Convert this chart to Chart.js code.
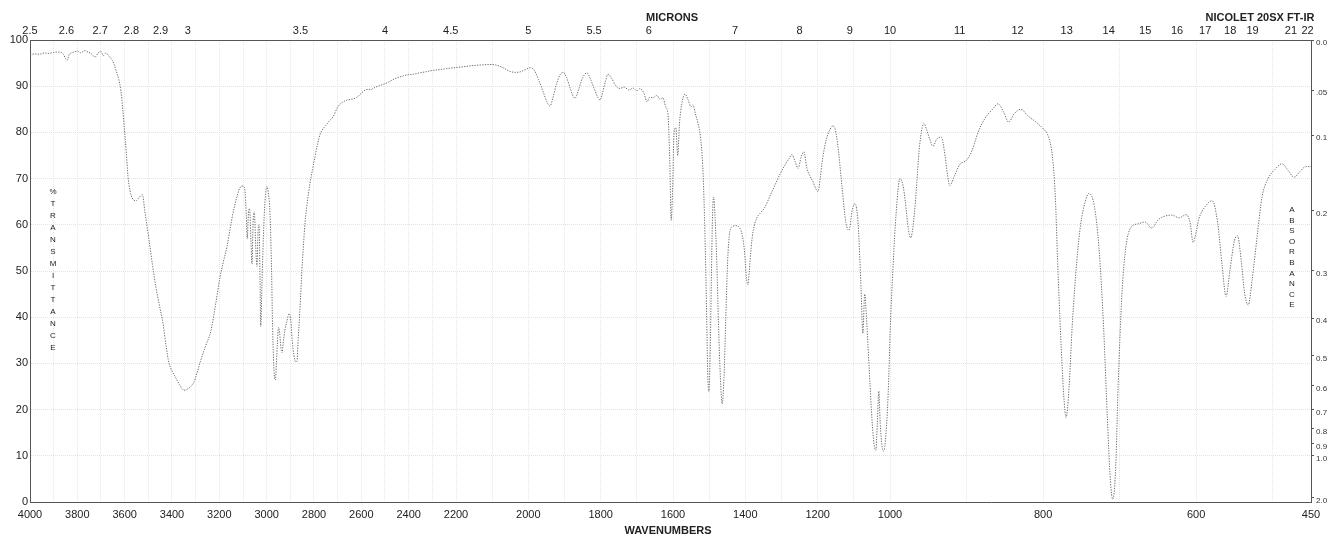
<!DOCTYPE html>
<html>
<head>
<meta charset="utf-8">
<script src="https://cdn.jsdelivr.net/npm/chart.js@4.4.0/dist/chart.umd.min.js"></script>
<style>
  html, body { margin: 0; padding: 0; background: #fff; }
  #wrap { position: relative; width: 1333px; height: 537px; font-family: "Liberation Sans", Arial, sans-serif; color: #222; }
  #c { position: absolute; left: 0; top: 0; }
  .lbl { position: absolute; white-space: nowrap; transform: translate(-50%, -50%); line-height: 1; }
  .b11 { font-weight: bold; font-size: 11px; }
  .stack { position: absolute; font-size: 8px; text-align: center; transform: translateX(-50%); }
</style>
</head>
<body>
<div id="wrap">
  <canvas id="c" width="1333" height="537"></canvas>
  <div class="lbl b11" style="left:672px; top:17px;">MICRONS</div>
  <div class="lbl b11" style="left:1260px; top:17px;">NICOLET 20SX FT-IR</div>
  <div class="lbl b11" style="left:668px; top:530px;">WAVENUMBERS</div>
  <div class="stack" id="tstack" style="left:53px; top:186px; line-height:12px;"></div>
  <div class="stack" id="astack" style="left:1292px; top:205px; line-height:10.6px;"></div>
</div>
<script>
// ---------- data ----------
const wavenumbers = [
  4000,3980,3960,3940,3920,3900,3880,3860,3850,3843,3835,3820,3800,3785,3770,3755,3740,3725,3712,3700,
  3690,3680,3668,3655,3645,3635,3625,3616,3608,3600,3593,3586,3578,3568,3552,3538,3525,3515,3505,3497,
  3483,3468,3453,3438,3425,3413,3398,3383,3365,3349,3330,3307,3295,3282,3260,3235,3215,3197,3183,3168,
  3155,3142,3128,3113,3100,3092,3086,3082,3077,3072,3066,3062,3057,3052,3046,3041,3036,3032,3028,3025,
  3020,3012,3005,2999,2992,2986,2980,2975,2967,2963,2959,2955,2950,2945,2940,2935,2929,2923,2915,2905,
  2898,2892,2885,2877,2872,2867,2860,2851,2844,2838,2828,2817,2806,2796,2785,2775,2766,2750,2735,2720,
  2700,2677,2660,2640,2618,2600,2576,2560,2540,2508,2480,2460,2437,2410,2380,2352,2330,2300,2267,2240,
  2210,2180,2161,2130,2106,2090,2078,2065,2051,2035,2023,2008,1995,1985,1972,1960,1948,1940,1932,1922,
  1912,1904,1895,1884,1876,1871,1862,1850,1838,1828,1818,1808,1802,1795,1787,1780,1770,1760,1747,1735,
  1722,1710,1700,1691,1680,1672,1664,1655,1645,1636,1628,1620,1614,1609,1605,1601,1597,1592,1587,1582,
  1576,1567,1558,1550,1545,1538,1531,1524,1518,1513,1508,1504,1501,1497,1494,1491,1488,1484,1479,1474,
  1469,1464,1459,1454,1449,1443,1436,1426,1416,1408,1402,1397,1393,1389,1384,1378,1368,1359,1346,1332,
  1318,1304,1290,1280,1271,1262,1254,1246,1238,1230,1221,1213,1205,1199,1193,1188,1177,1166,1158,1151,
  1144,1133,1122,1113,1105,1097,1088,1080,1075,1070,1065,1061,1055,1050,1044,1039,1035,1031,1027,1022,
  1017,1012,1007,1003,1000,996,992,987,983,980,976,973,969,965,962,958,956,952,948,944,
  939,933,929,925,922,916,909,900,893,885,876,865,859,851,845,838,829,820,809,800,
  794,788,784,781,777,773,770,766,762,756,751,745,740,733,727,721,716,712,709,705,
  702,697,692,685,676,667,658,650,645,632,622,613,608,604,600,597,588,579,572,566,
  561,556,550,546,541,537,532,527,520,514,506,497,488,480,472,464,457,450
];
const transmittance = [
  96.8,97.0,96.9,97.2,97.1,97.3,97.4,97.0,96.0,95.6,96.8,97.3,97.6,97.2,97.7,97.4,97.0,96.3,97.2,97.5,
  96.6,97.2,96.6,95.8,94.8,93.2,91.5,89.0,85.0,80.0,75.5,70.5,67.5,65.8,65.2,66.0,66.5,63.0,59.5,56.7,
  51.5,46.5,42.5,38.7,33.8,30.1,28.2,26.8,25.1,24.2,24.6,26.0,27.8,30.1,33.5,37.2,43.0,48.7,52.0,55.2,
  59.0,62.6,65.6,68.0,68.4,67.5,62.0,57.0,62.5,63.5,56.0,51.5,61.0,62.8,55.0,51.0,59.0,60.0,48.0,38.0,
  47.0,60.0,66.5,68.3,66.5,62.5,52.0,38.0,27.0,26.4,30.0,34.0,37.8,36.5,33.5,32.3,35.0,37.2,39.0,40.8,
  39.2,35.0,31.8,30.3,30.5,35.0,41.0,50.2,56.0,60.4,65.0,69.0,72.0,74.7,77.5,79.5,80.5,81.5,82.5,83.3,
  85.5,86.6,87.0,87.2,87.6,88.5,89.3,89.3,89.8,90.4,91.0,91.6,92.0,92.4,92.6,92.9,93.1,93.4,93.6,93.8,
  94.0,94.2,94.4,94.6,94.7,94.6,94.3,93.8,93.2,93.0,93.1,93.6,94.0,93.6,91.5,89.0,86.5,85.7,87.5,90.5,
  92.5,93.0,92.0,89.5,87.8,87.4,89.0,91.8,92.9,91.5,89.5,87.6,87.0,88.5,91.0,92.6,91.8,90.3,89.5,89.8,
  89.2,89.6,89.0,89.5,88.4,86.6,87.6,87.5,88.0,87.2,87.5,85.5,84.0,74.0,61.0,68.0,80.0,81.0,75.0,82.0,
  86.0,88.3,87.0,85.5,86.0,84.0,82.0,79.0,73.0,62.0,45.0,28.0,23.8,33.0,48.0,61.0,66.0,62.0,52.0,38.0,
  27.0,21.2,27.0,40.0,52.0,58.5,59.6,59.8,59.4,57.5,54.0,48.5,47.0,50.0,55.0,58.8,61.5,62.5,63.8,66.2,
  68.6,71.0,73.0,74.2,75.2,73.6,72.2,74.6,75.8,72.3,70.5,69.3,67.8,67.2,70.0,73.4,78.2,80.6,81.4,80.5,
  77.0,68.5,60.5,58.8,63.0,64.6,60.0,46.0,36.5,45.0,40.0,34.0,25.0,18.0,12.5,11.2,17.0,24.0,17.0,12.0,
  11.0,14.0,20.0,28.0,36.0,51.0,62.5,70.0,68.5,65.0,59.0,57.2,61.0,69.0,76.0,81.0,82.0,80.5,78.5,77.0,
  78.5,79.0,76.0,71.0,68.5,70.5,73.0,74.0,76.0,80.0,83.0,85.2,86.2,84.2,82.2,84.0,85.0,83.6,82.2,80.8,
  79.5,75.0,66.0,52.0,36.0,23.0,18.3,25.0,38.0,52.0,60.0,65.0,66.8,64.0,55.0,38.0,18.0,4.5,0.6,8.0,
  25.0,45.0,55.0,59.5,60.2,60.6,59.3,61.0,61.6,62.1,61.5,62.2,60.5,56.2,58.5,61.0,64.0,65.2,60.5,51.0,
  44.5,50.0,56.6,57.6,52.0,45.5,42.6,48.0,58.0,66.0,70.0,72.0,73.2,71.8,70.3,71.6,72.6,72.6
];

// tick labels
const wnGrid = [];
for (let w = 4000; w >= 500; w -= 100) wnGrid.push(w);
wnGrid.push(450);
const wnLabels = [4000,3800,3600,3400,3200,3000,2800,2600,2400,2200,2000,1800,1600,1400,1200,1000,800,600,450];
const micronLabels = ["2.5","2.6","2.7","2.8","2.9","3","3.5","4","4.5","5","5.5","6","7","8","9","10","11","12","13","14","15","16","17","18","19","21","22"];
const transTicks = [0,10,20,30,40,50,60,70,80,90,100];
const absLabels = ["0.0",".05","0.1","0.2","0.3","0.4","0.5","0.6","0.7","0.8","0.9","1.0","2.0"];

// ---------- piecewise wavenumber axis (spectrometer chart format) ----------
const AX_BREAKS = [4000, 2200, 1000, 450];
const AX_FRAC = [0, 426 / 1281, 860 / 1281, 1];
function irFrac(v) {
  for (let i = 0; i < AX_BREAKS.length - 1; i++) {
    const a = AX_BREAKS[i], b = AX_BREAKS[i + 1];
    if (v >= b || i === AX_BREAKS.length - 2) {
      return AX_FRAC[i] + (a - v) / (a - b) * (AX_FRAC[i + 1] - AX_FRAC[i]);
    }
  }
  return 0;
}
function irInv(f) {
  for (let i = 0; i < AX_FRAC.length - 1; i++) {
    if (f <= AX_FRAC[i + 1] || i === AX_FRAC.length - 2) {
      const t = (f - AX_FRAC[i]) / (AX_FRAC[i + 1] - AX_FRAC[i]);
      return AX_BREAKS[i] - t * (AX_BREAKS[i] - AX_BREAKS[i + 1]);
    }
  }
  return 450;
}
class IRScale extends Chart.LinearScale {
  getPixelForValue(value) {
    if (value === null || value === undefined || isNaN(value)) return NaN;
    return this.left + irFrac(value) * this.width;
  }
  getValueForPixel(pixel) {
    return irInv((pixel - this.left) / this.width);
  }
}
IRScale.id = 'irscale';
IRScale.defaults = Chart.LinearScale.defaults;
Chart.register(IRScale);

// vertical letter stacks
document.getElementById('tstack').innerHTML = "%TRANSMITTANCE".split('').join('<br>');
document.getElementById('astack').innerHTML = "ABSORBANCE".split('').join('<br>');

Chart.defaults.font.family = '"Liberation Sans", Arial, sans-serif';
Chart.defaults.color = '#222';

const points = wavenumbers.map((w, i) => ({ x: w, y: transmittance[i] }));
const absT = absLabels.map(s => 100 * Math.pow(10, -parseFloat(s)));
const dottedBorder = { display: true, color: '#555', width: 1, dash: [1, 1] };

new Chart(document.getElementById('c'), {
  type: 'line',
  data: {
    datasets: [{
      data: points,
      borderColor: '#6e6e6e',
      borderWidth: 1,
      borderDash: [1.3, 1.3],
      pointRadius: 0,
      fill: false,
      cubicInterpolationMode: 'monotone',
      xAxisID: 'x',
      yAxisID: 'y'
    }]
  },
  options: {
    responsive: false,
    animation: false,
    devicePixelRatio: 1,
    layout: { padding: 0 },
    plugins: { legend: { display: false }, tooltip: { enabled: false }, title: { display: false } },
    scales: {
      x: {
        type: 'irscale', position: 'bottom', min: 450, max: 4000,
        afterFit: s => { s.height = 35; },
        afterBuildTicks: s => { s.ticks = wnGrid.map(v => ({ value: v })); },
        ticks: {
          autoSkip: false, maxRotation: 0, minRotation: 0, padding: 6,
          font: { size: 11 }, color: '#222',
          callback: (v, i) => wnLabels.includes(wnGrid[i]) ? String(wnGrid[i]) : ''
        },
        grid: { color: '#e6e6e6', lineWidth: 1, drawTicks: false },
        border: dottedBorder
      },
      xTop: {
        type: 'irscale', position: 'top', min: 450, max: 4000,
        afterFit: s => { s.height = 40; },
        afterBuildTicks: s => { s.ticks = micronLabels.map(m => ({ value: 10000 / parseFloat(m) })); },
        ticks: {
          autoSkip: false, maxRotation: 0, minRotation: 0, padding: 2,
          font: { size: 11 }, color: '#222',
          callback: (v, i) => micronLabels[i]
        },
        grid: { drawOnChartArea: false, drawTicks: false },
        border: dottedBorder
      },
      y: {
        type: 'linear', position: 'left', min: 0, max: 100,
        afterFit: s => { s.width = 30; },
        afterBuildTicks: s => { s.ticks = transTicks.map(v => ({ value: v })); },
        ticks: { autoSkip: false, padding: 2, font: { size: 11 }, color: '#222', callback: (v, i) => String(transTicks[i]) },
        grid: { color: '#e2e2e2', lineWidth: 1, drawTicks: false },
        border: dottedBorder
      },
      yAbs: {
        type: 'linear', position: 'right', min: 0, max: 100,
        afterFit: s => { s.width = 22; },
        afterBuildTicks: s => { s.ticks = absT.map(v => ({ value: v })); },
        ticks: { autoSkip: false, padding: 2, labelOffset: 3, font: { size: 8 }, color: '#333', callback: (v, i) => absLabels[i] },
        grid: { drawOnChartArea: false, drawTicks: true, tickLength: 3, color: '#555' },
        border: dottedBorder
      }
    }
  }
});
</script>
</body>
</html>
